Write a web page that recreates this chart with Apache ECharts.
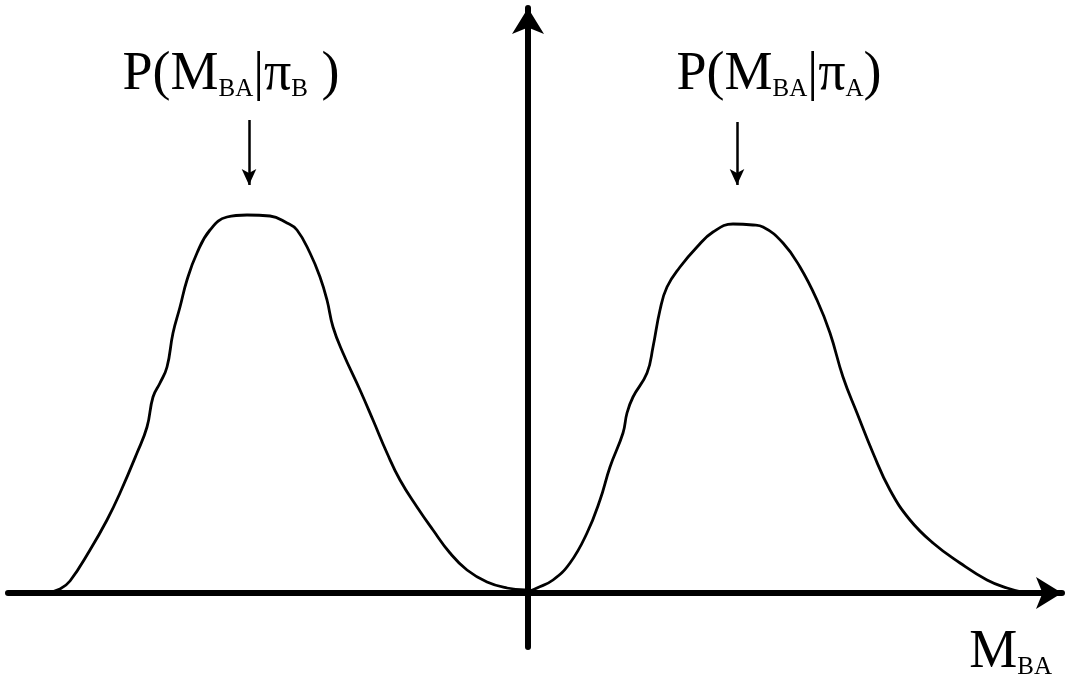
<!DOCTYPE html>
<html>
<head>
<meta charset="utf-8">
<script src="https://cdn.jsdelivr.net/npm/echarts@6/dist/echarts.min.js"></script>
<style>
  html, body { margin: 0; padding: 0; background: #fff; }
  #chart { width: 1070px; height: 685px; }
</style>
</head>
<body>
<div id="chart"></div>
<script>
// curve P(M_BA | pi_B), left of the axis  [M_BA, density]
let curveB = [
  [-482, 0], [-468, 4], [-458, 12], [-438, 43], [-421, 73], [-408, 100],
  [-391, 140], [-381, 166], [-375, 196], [-368, 210], [-361, 226], [-355, 260],
  [-348, 286], [-341, 313], [-331, 340], [-318, 363], [-301, 376], [-281, 378],
  [-258, 377], [-241, 370], [-231, 363], [-218, 340], [-208, 316], [-201, 293],
  [-195, 266], [-185, 240], [-168, 203], [-155, 173], [-141, 140], [-128, 113],
  [-111, 86], [-95, 63], [-78, 40], [-61, 23], [-41, 11], [-21, 5], [-3, 3]
]
// curve P(M_BA | pi_A), right of the axis
let curveA = [
  [2, 2], [9, 5], [25, 13], [42, 30], [59, 60], [72, 93], [82, 126],
  [95, 160], [99, 180], [105, 196], [119, 220], [125, 246], [132, 283],
  [139, 306], [152, 326], [169, 346], [185, 361], [205, 369], [225, 368],
  [235, 366], [255, 350], [272, 326], [289, 293], [302, 260], [315, 216],
  [329, 180], [345, 140], [362, 103], [382, 73], [405, 50], [432, 30],
  [459, 13], [479, 5], [494, 1]
]
// pointer arrows above each peak: [x, yTop, yBottom]
let arrowB = [-279, 473, 408]
let arrowA = [209, 471, 408]
// label anchors [x, y]
let labelB = [-297, 518]
let labelA = [251, 518]

let myChart = echarts.init(document.getElementById('chart'))

let rich = {
  a: { fontFamily: 'Liberation Serif', fontSize: 54, color: '#000', verticalAlign: 'bottom' },
  s: { fontFamily: 'Liberation Serif', fontSize: 25, color: '#000', verticalAlign: 'bottom' }
}

function arrowLine(a) {
  return {
    silent: true,
    symbol: ['none', 'arrow'],
    symbolSize: [11, 16],
    lineStyle: { color: '#000', width: 2.5, type: 'solid' },
    label: { show: false },
    data: [[{ coord: [a[0], a[1]] }, { coord: [a[0], a[2]] }]]
  }
}

function labelPoint(p, txt) {
  return {
    silent: true,
    symbolSize: 0,
    itemStyle: { color: 'transparent' },
    label: { show: true, position: 'inside', formatter: txt, rich: rich },
    data: [{ coord: p }]
  }
}

let option = {
  animation: false,
  backgroundColor: '#fff',
  grid: { left: 8, right: 8, top: 8, bottom: 38 },
  xAxis: {
    type: 'value',
    min: -520,
    max: 534,
    axisLine: {
      onZero: true,
      symbol: ['none', 'arrow'],
      symbolSize: [24, 26],
      lineStyle: { color: '#000', width: 6 }
    },
    axisTick: { show: false },
    axisLabel: { show: false },
    splitLine: { show: false },
    name: '{a|M}{s|BA}',
    nameLocation: 'end',
    nameGap: -10,
    nameTextStyle: { align: 'right', verticalAlign: 'top', padding: [33, 0, 0, 0], rich: rich }
  },
  yAxis: {
    type: 'value',
    min: -54,
    max: 585,
    axisLine: {
      onZero: true,
      symbol: ['none', 'arrow'],
      symbolSize: [24, 26],
      lineStyle: { color: '#000', width: 6 }
    },
    axisTick: { show: false },
    axisLabel: { show: false },
    splitLine: { show: false }
  },
  series: [
    {
      type: 'line',
      data: curveB,
      smooth: 0.45,
      symbol: 'none',
      lineStyle: { color: '#000', width: 2.8 },
      markLine: arrowLine(arrowB),
      markPoint: labelPoint(labelB, '{a|P(M}{s|BA}{a||π}{s|B}{a| )}')
    },
    {
      type: 'line',
      data: curveA,
      smooth: 0.45,
      symbol: 'none',
      lineStyle: { color: '#000', width: 2.8 },
      markLine: arrowLine(arrowA),
      markPoint: labelPoint(labelA, '{a|P(M}{s|BA}{a||π}{s|A}{a|)}')
    }
  ]
}

myChart.setOption(option)
</script>
</body>
</html>
